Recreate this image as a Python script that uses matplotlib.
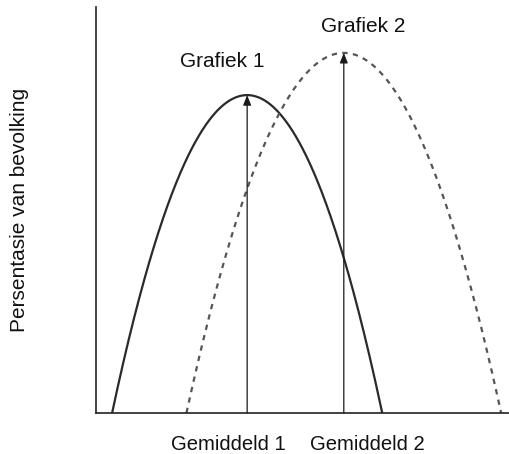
import numpy as np
import matplotlib
matplotlib.use("Agg")
import matplotlib.pyplot as plt

# Conceptual curves: mean, half-width at base, peak height
curve_names = ["Grafiek 1", "Grafiek 2"]
means = [3.66, 6.00]
half_widths = [3.27, 3.81]
peaks = [0.783, 0.887]
mean_labels = ["Gemiddeld 1", "Gemiddeld 2"]
y_label = "Persentasie van bevolking"

plt.rcParams['font.family'] = ['Liberation Sans', 'DejaVu Sans']

W, H = 509, 454
fig = plt.figure(figsize=(W / 100, H / 100), dpi=100)
ax = fig.add_axes([96 / W, (H - 413) / H, 413 / W, 406 / H])
ax.set_xlim(0, 10)
ax.set_ylim(0, 1)

styles = [dict(color='#2a2a2a', lw=1.6, ls='-'),
          dict(color='#555555', lw=1.6, ls=(0, (2.4, 2.4)))]

for m, hw, pk, st in zip(means, half_widths, peaks, styles):
    xs = np.linspace(m - hw, m + hw, 300)
    ys = pk * (1 - ((xs - m) / hw) ** 2)
    ax.plot(xs, ys, solid_capstyle='butt', dash_capstyle='butt', clip_on=False, **st)
    ax.annotate('', xy=(m, pk), xytext=(m, 0),
                arrowprops=dict(arrowstyle='-|>,head_length=0.6,head_width=0.24',
                                color='#1a1a1a', lw=0.9, shrinkA=0, shrinkB=0))

# curve titles
ax.text(3.05, 0.853, curve_names[0], ha='center', va='baseline', fontsize=15, color='#111111')
ax.text(6.46, 0.939, curve_names[1], ha='center', va='baseline', fontsize=15, color='#111111')
# mean labels
ax.text(3.20, -0.090, mean_labels[0], ha='center', va='baseline', fontsize=14.6, color='#111111')
ax.text(6.56, -0.090, mean_labels[1], ha='center', va='baseline', fontsize=14.6, color='#111111')

fig.text(20 / W, 1 - 210 / H, y_label, rotation=90, ha='center', va='center',
         fontsize=15, color='#111111')

for s in ['top', 'right']:
    ax.spines[s].set_visible(False)
for s in ['left', 'bottom']:
    ax.spines[s].set_linewidth(1.2)
    ax.spines[s].set_color('#222222')
ax.set_xticks([])
ax.set_yticks([])

fig.savefig('out.png', dpi=100)
